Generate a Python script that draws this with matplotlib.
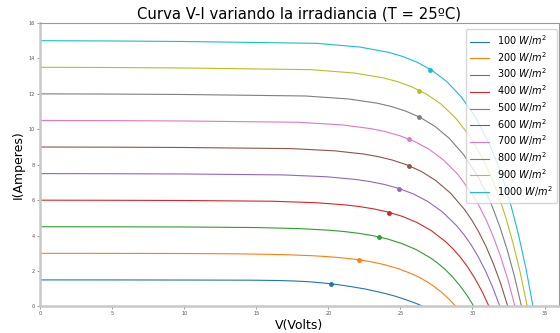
import matplotlib
matplotlib.use("Agg")
import matplotlib.pyplot as plt

# Irradiance levels [W/m^2]
irradiance = [100, 200, 300, 400, 500, 600, 700, 800, 900, 1000]

# Voltage points [V] for each curve
v_100 = [0, 5, 10, 11.6, 14.6, 16.6, 17.6, 18.6, 19.6, 20.6, 21.6, 22.6, 23.6, 24.1, 24.6, 25.1, 25.6, 26.1, 26.6]
v_200 = [0, 5, 10, 13.85, 16.85, 18.85, 19.85, 20.85, 21.85, 22.85, 23.85, 24.85, 25.85, 26.35, 26.85, 27.35, 27.85, 28.35, 28.85]
v_300 = [0, 5, 10, 15.1, 18.1, 20.1, 21.1, 22.1, 23.1, 24.1, 25.1, 26.1, 27.1, 27.6, 28.1, 28.6, 29.1, 29.6, 30.1]
v_400 = [0, 5, 10, 16.15, 19.15, 21.15, 22.15, 23.15, 24.15, 25.15, 26.15, 27.15, 28.15, 28.65, 29.15, 29.65, 30.15, 30.65, 31.15]
v_500 = [0, 5, 10, 16.9, 19.9, 21.9, 22.9, 23.9, 24.9, 25.9, 26.9, 27.9, 28.9, 29.4, 29.9, 30.4, 30.9, 31.4, 31.9]
v_600 = [0, 5, 10, 17.45, 20.45, 22.45, 23.45, 24.45, 25.45, 26.45, 27.45, 28.45, 29.45, 29.95, 30.45, 30.95, 31.45, 31.95, 32.45]
v_700 = [0, 5, 10, 17.95, 20.95, 22.95, 23.95, 24.95, 25.95, 26.95, 27.95, 28.95, 29.95, 30.45, 30.95, 31.45, 31.95, 32.45, 32.95]
v_800 = [0, 5, 10, 18.4, 21.4, 23.4, 24.4, 25.4, 26.4, 27.4, 28.4, 29.4, 30.4, 30.9, 31.4, 31.9, 32.4, 32.9, 33.4]
v_900 = [0, 5, 10, 18.8, 21.8, 23.8, 24.8, 25.8, 26.8, 27.8, 28.8, 29.8, 30.8, 31.3, 31.8, 32.3, 32.8, 33.3, 33.8]
v_1000 = [0, 5, 10, 19.2, 22.2, 24.2, 25.2, 26.2, 27.2, 28.2, 29.2, 30.2, 31.2, 31.7, 32.2, 32.7, 33.2, 33.7, 34.2]

# Current points [A] for each curve
i_100 = [1.5, 1.499, 1.493, 1.49, 1.485, 1.465, 1.44, 1.40, 1.33, 1.24, 1.12, 0.98, 0.80, 0.70, 0.59, 0.46, 0.32, 0.17, 0.0]
i_200 = [3.0, 2.997, 2.99, 2.97, 2.928, 2.868, 2.82, 2.754, 2.664, 2.541, 2.37, 2.139, 1.824, 1.626, 1.395, 1.122, 0.804, 0.435, 0.0]
i_300 = [4.5, 4.496, 4.487, 4.455, 4.392, 4.302, 4.23, 4.131, 3.996, 3.812, 3.555, 3.209, 2.736, 2.439, 2.093, 1.683, 1.206, 0.653, 0.0]
i_400 = [6.0, 5.994, 5.982, 5.94, 5.856, 5.736, 5.64, 5.508, 5.328, 5.082, 4.74, 4.278, 3.648, 3.252, 2.79, 2.244, 1.608, 0.87, 0.0]
i_500 = [7.5, 7.493, 7.478, 7.425, 7.32, 7.17, 7.05, 6.885, 6.66, 6.353, 5.925, 5.348, 4.56, 4.065, 3.488, 2.805, 2.01, 1.088, 0.0]
i_600 = [9.0, 8.991, 8.973, 8.91, 8.784, 8.604, 8.46, 8.262, 7.992, 7.623, 7.11, 6.417, 5.472, 4.878, 4.185, 3.366, 2.412, 1.305, 0.0]
i_700 = [10.5, 10.49, 10.469, 10.395, 10.248, 10.038, 9.87, 9.639, 9.324, 8.894, 8.295, 7.487, 6.384, 5.691, 4.883, 3.927, 2.814, 1.523, 0.0]
i_800 = [12.0, 11.988, 11.964, 11.88, 11.712, 11.472, 11.28, 11.016, 10.656, 10.164, 9.48, 8.556, 7.296, 6.504, 5.58, 4.488, 3.216, 1.74, 0.0]
i_900 = [13.5, 13.487, 13.46, 13.365, 13.176, 12.906, 12.69, 12.393, 11.988, 11.435, 10.665, 9.626, 8.208, 7.317, 6.278, 5.049, 3.618, 1.958, 0.0]
i_1000 = [15.0, 14.985, 14.955, 14.85, 14.64, 14.34, 14.1, 13.77, 13.32, 12.705, 11.85, 10.695, 9.12, 8.13, 6.975, 5.61, 4.02, 2.175, 0.0]

# Maximum power points (V, I)
v_mpp = [20.2, 22.14, 23.49, 24.18, 24.9, 25.59, 25.59, 26.3, 26.3, 27.07]
i_mpp = [1.28, 2.62, 3.94, 5.30, 6.61, 7.93, 9.44, 10.67, 12.17, 13.32]

voltages = [v_100, v_200, v_300, v_400, v_500, v_600, v_700, v_800, v_900, v_1000]
currents = [i_100, i_200, i_300, i_400, i_500, i_600, i_700, i_800, i_900, i_1000]

fig = plt.figure(figsize=(5.6, 3.33), dpi=100)
ax = fig.add_axes([0.0714, 0.0796, 0.9268, 0.8514])

colors = plt.rcParams['axes.prop_cycle'].by_key()['color']
for k, g in enumerate(irradiance):
    ax.plot(voltages[k], currents[k], color=colors[k], linewidth=0.8,
            label=str(g) + ' $W/m^2$')
    ax.plot(v_mpp[k], i_mpp[k], 'o', color=colors[k], markersize=2.5)

ax.set_xlim(0, 36)
ax.set_ylim(0, 16)
ax.set_xticks(range(0, 36, 5))
ax.set_yticks(range(0, 17, 2))
ax.tick_params(labelsize=3.5, labelcolor='#555555', length=2, width=0.6, color='#888888', pad=1.5)

for side in ['left', 'bottom']:
    ax.spines[side].set_color('#c8c8c8')
    ax.spines[side].set_linewidth(1.8)
for side in ['top', 'right']:
    ax.spines[side].set_color('#999999')
    ax.spines[side].set_linewidth(0.8)

ax.set_title('Curva V-I variando la irradiancia (T = 25ºC)', fontsize=10.7, pad=3)
ax.set_xlabel('V(Volts)', fontsize=9, labelpad=2)
ax.set_ylabel('I(Amperes)', fontsize=9, labelpad=3)
ax.legend(loc='upper right', fontsize=7, labelspacing=0.2,
          bbox_to_anchor=(1.006, 0.995))

fig.savefig('out.png', dpi=100)
